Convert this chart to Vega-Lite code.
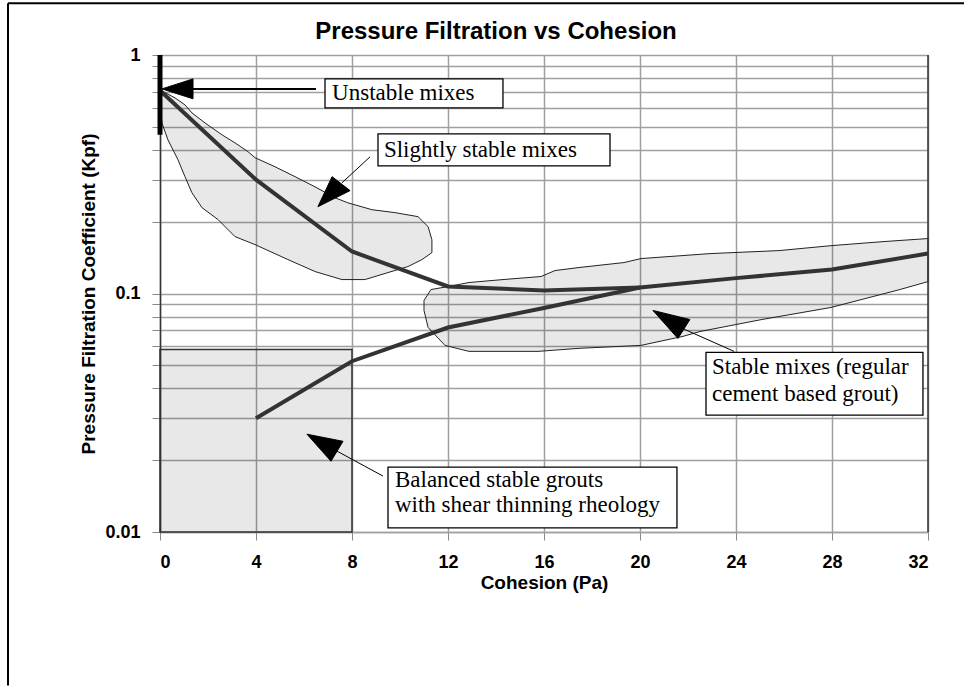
{
  "$schema": "https://vega.github.io/schema/vega-lite/v6.json",
  "width": 768,
  "height": 477,
  "autosize": "none",
  "padding": {"left": 160, "top": 55, "right": 36, "bottom": 155},
  "background": "white",
  "title": {
    "text": "Pressure Filtration vs Cohesion",
    "font": "Liberation Sans",
    "fontSize": 24,
    "fontWeight": "bold",
    "color": "#000",
    "anchor": "middle",
    "dx": -48,
    "offset": -42
  },
  "config": {
    "view": {"stroke": null},
    "axis": {
      "labelFont": "Liberation Sans",
      "labelFontWeight": "bold",
      "labelFontSize": 18,
      "labelColor": "#000",
      "titleFont": "Liberation Sans",
      "titleFontWeight": "bold",
      "titleFontSize": 19,
      "titleColor": "#000",
      "gridColor": "#a0a0a0",
      "gridWidth": 1.5,
      "gridOpacity": 1,
      "tickColor": "#888",
      "tickSize": 8
    }
  },
  "datasets": {
    "blobs": [
      {"shape": "slightly", "i": 1, "x": 0, "y": 0.714},
      {"shape": "slightly", "i": 2, "x": 0.625, "y": 0.661},
      {"shape": "slightly", "i": 3, "x": 1.04, "y": 0.618},
      {"shape": "slightly", "i": 4, "x": 1.33, "y": 0.572},
      {"shape": "slightly", "i": 5, "x": 1.875, "y": 0.519},
      {"shape": "slightly", "i": 6, "x": 2.58, "y": 0.463},
      {"shape": "slightly", "i": 7, "x": 3.125, "y": 0.428},
      {"shape": "slightly", "i": 8, "x": 3.67, "y": 0.393},
      {"shape": "slightly", "i": 9, "x": 3.96, "y": 0.371},
      {"shape": "slightly", "i": 10, "x": 4.79, "y": 0.34},
      {"shape": "slightly", "i": 11, "x": 5.625, "y": 0.309},
      {"shape": "slightly", "i": 12, "x": 6.46, "y": 0.28},
      {"shape": "slightly", "i": 13, "x": 7.29, "y": 0.252},
      {"shape": "slightly", "i": 14, "x": 7.83, "y": 0.24},
      {"shape": "slightly", "i": 15, "x": 8.83, "y": 0.2246},
      {"shape": "slightly", "i": 16, "x": 9.79, "y": 0.2183},
      {"shape": "slightly", "i": 17, "x": 10.75, "y": 0.21},
      {"shape": "slightly", "i": 18, "x": 11.17, "y": 0.1907},
      {"shape": "slightly", "i": 19, "x": 11.33, "y": 0.168},
      {"shape": "slightly", "i": 20, "x": 11.33, "y": 0.1484},
      {"shape": "slightly", "i": 21, "x": 10.92, "y": 0.1388},
      {"shape": "slightly", "i": 22, "x": 10.33, "y": 0.1297},
      {"shape": "slightly", "i": 23, "x": 9.5, "y": 0.1224},
      {"shape": "slightly", "i": 24, "x": 8.54, "y": 0.1144},
      {"shape": "slightly", "i": 25, "x": 7.58, "y": 0.1144},
      {"shape": "slightly", "i": 26, "x": 6.46, "y": 0.1236},
      {"shape": "slightly", "i": 27, "x": 5.33, "y": 0.1388},
      {"shape": "slightly", "i": 28, "x": 3.96, "y": 0.1603},
      {"shape": "slightly", "i": 29, "x": 3.125, "y": 0.1732},
      {"shape": "slightly", "i": 30, "x": 2.42, "y": 0.204},
      {"shape": "slightly", "i": 31, "x": 1.75, "y": 0.229},
      {"shape": "slightly", "i": 32, "x": 1.33, "y": 0.2646},
      {"shape": "slightly", "i": 33, "x": 1.04, "y": 0.309},
      {"shape": "slightly", "i": 34, "x": 0.75, "y": 0.3636},
      {"shape": "slightly", "i": 35, "x": 0.33, "y": 0.441},
      {"shape": "slightly", "i": 36, "x": 0.08, "y": 0.519},
      {"shape": "slightly", "i": 37, "x": 0, "y": 0.63},
      {"shape": "slightly", "i": 38, "x": 0, "y": 0.714},
      {"shape": "stable", "i": 1, "x": 11.0, "y": 0.0935},
      {"shape": "stable", "i": 2, "x": 11.29, "y": 0.1039},
      {"shape": "stable", "i": 3, "x": 12.0, "y": 0.1069},
      {"shape": "stable", "i": 4, "x": 12.875, "y": 0.1112},
      {"shape": "stable", "i": 5, "x": 14.29, "y": 0.1144},
      {"shape": "stable", "i": 6, "x": 15.875, "y": 0.1178},
      {"shape": "stable", "i": 7, "x": 16.46, "y": 0.1248},
      {"shape": "stable", "i": 8, "x": 17.46, "y": 0.1285},
      {"shape": "stable", "i": 9, "x": 19.33, "y": 0.1348},
      {"shape": "stable", "i": 10, "x": 20.04, "y": 0.1401},
      {"shape": "stable", "i": 11, "x": 22.92, "y": 0.147},
      {"shape": "stable", "i": 12, "x": 25.79, "y": 0.1513},
      {"shape": "stable", "i": 13, "x": 27.96, "y": 0.1587},
      {"shape": "stable", "i": 14, "x": 30.125, "y": 0.165},
      {"shape": "stable", "i": 15, "x": 32, "y": 0.17},
      {"shape": "stable", "i": 16, "x": 32, "y": 0.1122},
      {"shape": "stable", "i": 17, "x": 30.83, "y": 0.1039},
      {"shape": "stable", "i": 18, "x": 27.96, "y": 0.0874},
      {"shape": "stable", "i": 19, "x": 25.08, "y": 0.0778},
      {"shape": "stable", "i": 20, "x": 22.5, "y": 0.0693},
      {"shape": "stable", "i": 21, "x": 21.79, "y": 0.0661},
      {"shape": "stable", "i": 22, "x": 20.04, "y": 0.0606},
      {"shape": "stable", "i": 23, "x": 17.46, "y": 0.0589},
      {"shape": "stable", "i": 24, "x": 15.75, "y": 0.0572},
      {"shape": "stable", "i": 25, "x": 12.875, "y": 0.0572},
      {"shape": "stable", "i": 26, "x": 11.875, "y": 0.0606},
      {"shape": "stable", "i": 27, "x": 11.17, "y": 0.0721},
      {"shape": "stable", "i": 28, "x": 11.0, "y": 0.0849},
      {"shape": "stable", "i": 29, "x": 11.0, "y": 0.0935}
    ],
    "region": [{"x": 0, "x2": 8, "y": 0.01, "y2": 0.0583}],
    "curves": [
      {"series": "upper", "x": 0, "y": 0.71},
      {"series": "upper", "x": 4, "y": 0.3},
      {"series": "upper", "x": 8, "y": 0.15},
      {"series": "upper", "x": 12, "y": 0.107},
      {"series": "upper", "x": 16, "y": 0.103},
      {"series": "upper", "x": 20, "y": 0.106},
      {"series": "lower", "x": 4, "y": 0.03},
      {"series": "lower", "x": 8, "y": 0.052},
      {"series": "lower", "x": 12, "y": 0.072},
      {"series": "lower", "x": 16, "y": 0.087},
      {"series": "lower", "x": 20, "y": 0.106},
      {"series": "lower", "x": 24, "y": 0.116},
      {"series": "lower", "x": 28, "y": 0.126},
      {"series": "lower", "x": 32, "y": 0.147}
    ],
    "marker": [{"x": 0, "y": 1, "y2": 0.463}],
    "stems": [
      {"arrow": "unstable", "x": 6.5, "y": 0.721, "x2": 1.375, "y2": 0.721, "w": 2},
      {"arrow": "slightly", "x": 8.75, "y": 0.374, "x2": 7.58, "y2": 0.291, "w": 1},
      {"arrow": "stable", "x": 23.92, "y": 0.0572, "x2": 21.67, "y2": 0.0721, "w": 1},
      {"arrow": "balanced", "x": 9.29, "y": 0.01716, "x2": 7.375, "y2": 0.02183, "w": 1}
    ],
    "heads": [
      {"arrow": "unstable", "i": 1, "x": 0.083, "y": 0.721},
      {"arrow": "unstable", "i": 2, "x": 1.375, "y": 0.794},
      {"arrow": "unstable", "i": 3, "x": 1.375, "y": 0.655},
      {"arrow": "unstable", "i": 4, "x": 0.083, "y": 0.721},
      {"arrow": "slightly", "i": 1, "x": 6.58, "y": 0.2312},
      {"arrow": "slightly", "i": 2, "x": 7.17, "y": 0.309},
      {"arrow": "slightly", "i": 3, "x": 7.92, "y": 0.27},
      {"arrow": "slightly", "i": 4, "x": 6.58, "y": 0.2312},
      {"arrow": "stable", "i": 1, "x": 20.54, "y": 0.0849},
      {"arrow": "stable", "i": 2, "x": 22.08, "y": 0.0778},
      {"arrow": "stable", "i": 3, "x": 21.58, "y": 0.0648},
      {"arrow": "stable", "i": 4, "x": 20.54, "y": 0.0849},
      {"arrow": "balanced", "i": 1, "x": 6.125, "y": 0.0257},
      {"arrow": "balanced", "i": 2, "x": 7.625, "y": 0.024},
      {"arrow": "balanced", "i": 3, "x": 7.125, "y": 0.0198},
      {"arrow": "balanced", "i": 4, "x": 6.125, "y": 0.0257}
    ],
    "boxes": [
      {"label": "unstable", "x": 6.875, "x2": 14.29, "y": 0.794, "y2": 0.6},
      {"label": "slightly", "x": 9.083, "x2": 18.75, "y": 0.467, "y2": 0.343},
      {"label": "stable", "x": 22.75, "x2": 31.79, "y": 0.0566, "y2": 0.0309},
      {"label": "balanced", "x": 9.5, "x2": 21.54, "y": 0.0187, "y2": 0.0104}
    ],
    "texts": [
      {"text": "Unstable mixes", "x": 7.17, "y": 0.648},
      {"text": "Slightly stable mixes", "x": 9.33, "y": 0.374},
      {"text": "Stable mixes (regular", "x": 23.0, "y": 0.0458},
      {"text": "cement based grout)", "x": 23.0, "y": 0.0353},
      {"text": "Balanced stable grouts", "x": 9.79, "y": 0.01543},
      {"text": "with shear thinning rheology", "x": 9.79, "y": 0.01212}
    ],
    "frame_top": [{"x": -6.333, "x2": 33.5, "y": 1.65}],
    "frame_left": [{"x": -6.333, "y": 1.65, "y2": 0.00227}],
    "right_edge": [{"x": 32, "y": 1, "y2": 0.01}]
  },
  "layer": [
    {
      "data": {"name": "blobs"},
      "mark": {"type": "line", "fill": "#000", "fillOpacity": 0.09, "stroke": "#222", "strokeWidth": 1, "interpolate": "linear"},
      "encoding": {
        "x": {
          "field": "x", "type": "quantitative",
          "scale": {"domain": [0, 32], "nice": false, "zero": false},
          "axis": {
            "values": [0, 4, 8, 12, 16, 20, 24, 28, 32],
            "title": "Cohesion (Pa)",
            "grid": true,
            "domainColor": "#a0a0a0",
            "domainWidth": 1.5,
            "labelPadding": 13,
            "titlePadding": 2
          }
        },
        "y": {
          "field": "y", "type": "quantitative",
          "scale": {"type": "log", "domain": [0.01, 1], "nice": false},
          "axis": {
            "values": [0.01, 0.02, 0.03, 0.04, 0.05, 0.06, 0.07, 0.08, 0.09, 0.1, 0.2, 0.3, 0.4, 0.5, 0.6, 0.7, 0.8, 0.9, 1],
            "format": "~g",
            "labelExpr": "(datum.value == 1 || datum.value == 0.1 || datum.value == 0.01) ? datum.label : ''",
            "title": "Pressure Filtration Coefficient (Kpf)",
            "grid": true,
            "domainColor": "#333",
            "domainWidth": 1.5,
            "labelPadding": 12,
            "titlePadding": 6
          }
        },
        "order": {"field": "i", "type": "quantitative"},
        "detail": {"field": "shape"}
      }
    },
    {
      "data": {"name": "region"},
      "mark": {"type": "rect", "fill": "#000", "fillOpacity": 0.09, "stroke": "#333", "strokeWidth": 1.5},
      "encoding": {
        "x": {"field": "x", "type": "quantitative"},
        "x2": {"field": "x2"},
        "y": {"field": "y", "type": "quantitative"},
        "y2": {"field": "y2"}
      }
    },
    {
      "data": {"name": "right_edge"},
      "mark": {"type": "rule", "color": "#333", "strokeWidth": 1.5},
      "encoding": {
        "x": {"field": "x", "type": "quantitative"},
        "y": {"field": "y", "type": "quantitative"},
        "y2": {"field": "y2"}
      }
    },
    {
      "data": {"name": "curves"},
      "mark": {"type": "line", "color": "#333", "strokeWidth": 4},
      "encoding": {
        "x": {"field": "x", "type": "quantitative"},
        "y": {"field": "y", "type": "quantitative"},
        "detail": {"field": "series"}
      }
    },
    {
      "data": {"name": "marker"},
      "mark": {"type": "rule", "color": "#000", "strokeWidth": 5},
      "encoding": {
        "x": {"field": "x", "type": "quantitative"},
        "y": {"field": "y", "type": "quantitative"},
        "y2": {"field": "y2"}
      }
    },
    {
      "data": {"name": "stems"},
      "mark": {"type": "rule", "color": "#000"},
      "encoding": {
        "x": {"field": "x", "type": "quantitative"},
        "y": {"field": "y", "type": "quantitative"},
        "x2": {"field": "x2"},
        "y2": {"field": "y2"},
        "strokeWidth": {"field": "w", "type": "quantitative", "scale": null}
      }
    },
    {
      "data": {"name": "heads"},
      "mark": {"type": "line", "fill": "#000", "stroke": "#000", "strokeWidth": 1},
      "encoding": {
        "x": {"field": "x", "type": "quantitative"},
        "y": {"field": "y", "type": "quantitative"},
        "order": {"field": "i", "type": "quantitative"},
        "detail": {"field": "arrow"}
      }
    },
    {
      "data": {"name": "boxes"},
      "mark": {"type": "rect", "fill": "#fff", "stroke": "#000", "strokeWidth": 1.3},
      "encoding": {
        "x": {"field": "x", "type": "quantitative"},
        "x2": {"field": "x2"},
        "y": {"field": "y", "type": "quantitative"},
        "y2": {"field": "y2"}
      }
    },
    {
      "data": {"name": "texts"},
      "mark": {"type": "text", "font": "Liberation Serif", "fontSize": 23, "align": "left", "baseline": "alphabetic", "color": "#000"},
      "encoding": {
        "x": {"field": "x", "type": "quantitative"},
        "y": {"field": "y", "type": "quantitative"},
        "text": {"field": "text"}
      }
    },
    {
      "data": {"name": "frame_top"},
      "mark": {"type": "rule", "color": "#000", "strokeWidth": 2},
      "encoding": {
        "x": {"field": "x", "type": "quantitative"},
        "x2": {"field": "x2"},
        "y": {"field": "y", "type": "quantitative"}
      }
    },
    {
      "data": {"name": "frame_left"},
      "mark": {"type": "rule", "color": "#000", "strokeWidth": 2},
      "encoding": {
        "x": {"field": "x", "type": "quantitative"},
        "y": {"field": "y", "type": "quantitative"},
        "y2": {"field": "y2"}
      }
    }
  ]
}
